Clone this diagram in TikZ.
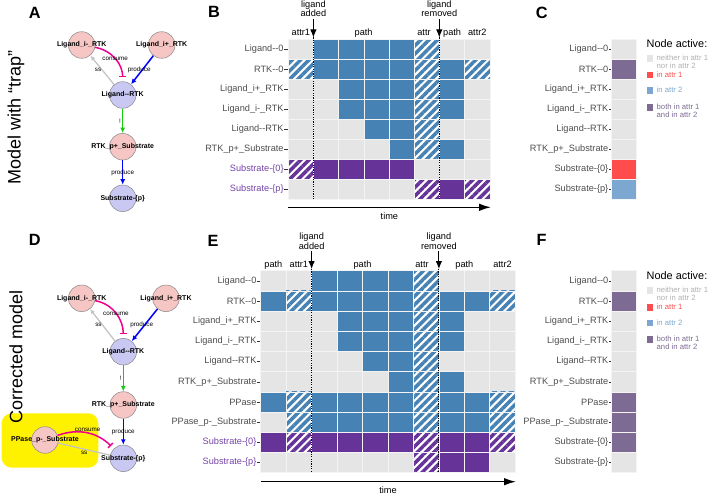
\documentclass[tikz,border=0pt]{standalone}
\usepackage{fontspec}
\setmainfont{Liberation Sans}
\usetikzlibrary{arrows.meta,patterns.meta}

\definecolor{cellgray}{HTML}{E5E5E5}
\definecolor{cellline}{HTML}{F4F4F4}
\definecolor{cellblue}{HTML}{4682B4}
\definecolor{cellpurple}{HTML}{663399}
\definecolor{labgray}{HTML}{4D4D4D}
\definecolor{labpurple}{HTML}{7444A8}
\definecolor{tickgray}{HTML}{333333}
\definecolor{attrone}{HTML}{FF4D4D}
\definecolor{attrtwo}{HTML}{7BA7D0}
\definecolor{attrboth}{HTML}{7D6B93}
\definecolor{neithertxt}{HTML}{B0B0B0}
\definecolor{nodepink}{HTML}{F5C6C3}
\definecolor{nodelav}{HTML}{C8C8F2}
\definecolor{nodeline}{HTML}{888888}
\definecolor{ssgray}{HTML}{C4C4C4}
\definecolor{edgegreen}{HTML}{11CC11}

\newcommand{\fsz}[2]{\fontsize{#1}{#2}\selectfont}

\tikzset{
  % fliser
  gr/.style={fill=cellgray,draw=cellline,line width=0.6pt},
  bl/.style={fill=cellblue,draw=cellline,line width=0.6pt},
  pu/.style={fill=cellpurple,draw=cellline,line width=0.6pt},
  hbl/.style={preaction={fill=white},pattern={Lines[angle=45,distance=5.9pt,line width=3.5pt]},pattern color=cellblue,draw=cellline,line width=0.6pt},
  hpu/.style={preaction={fill=white},pattern={Lines[angle=45,distance=5.9pt,line width=3.5pt]},pattern color=cellpurple,draw=cellline,line width=0.6pt},
  aone/.style={fill=attrone,draw=cellline,line width=0.6pt},
  atwo/.style={fill=attrtwo,draw=cellline,line width=0.6pt},
  aboth/.style={fill=attrboth,draw=cellline,line width=0.6pt},
  % tekst
  rowlab/.style={anchor=east,inner sep=0pt,text=labgray,font=\fsz{9.2}{11}},
  head/.style={anchor=base,inner sep=0pt,font=\fsz{9.2}{11}},
  event/.style={anchor=south,inner sep=0pt,align=center,font=\fsz{9.2}{9.6}},
  timelab/.style={inner sep=0pt,font=\fsz{9.2}{11}},
  panel/.style={inner sep=0pt,font=\bfseries\fsz{16.3}{18}},
  side/.style={inner sep=0pt,rotate=90,font=\fsz{18}{20}},
  legtitle/.style={anchor=west,inner sep=0pt,font=\fsz{10.9}{12}},
  legtxt/.style={anchor=north west,inner sep=0pt,align=left,font=\fsz{7.7}{8}},
  tickc/.style={draw=tickgray,line width=0.5pt},
  drop/.style={line width=1pt,shorten <=2pt,-{Latex[length=8pt,width=6.5pt]}},
  vline/.style={line width=1.1pt,dash pattern=on 1.1pt off 1.3pt},
  timearr/.style={line width=1.4pt,-{Latex[length=12pt,width=7.5pt]}},
  % nettverk
  pnode/.style={circle,draw=nodeline,line width=0.5pt,fill=nodepink,minimum size=26.6pt,inner sep=0pt},
  lnode/.style={pnode,fill=nodelav},
  nlab/.style={inner sep=0pt,font=\bfseries\fsz{7}{8}},
  elab/.style={inner sep=1pt,font=\fsz{6.3}{7}},
  ssedge/.style={draw=ssgray,line width=1.3pt,-{Latex[length=5pt,width=4.5pt]}},
  prod/.style={draw=blue,line width=1.5pt,-{Latex[length=5.5pt,width=5pt]}},
  actv/.style={draw=edgegreen,line width=1.5pt,-{Latex[length=5.5pt,width=5pt]}},
  cons/.style={draw=magenta,line width=1.5pt,shorten >=4pt,-{Bar[width=7pt,line width=1.3pt]}},
}

\begin{document}
\begin{tikzpicture}[x=1pt,y=-1pt]
  \useasboundingbox (0,0) rectangle (708,494);

  % Paneler
  \foreach \t/\x/\y in {A/34.7/12.5,B/214/11.5,C/541.7/12.5,D/34.7/239.5,E/213/241,F/541.5/239.5}
    \node[panel] (pan\t) at (\x,\y) {\t};

  % Nettverk A
  \node[pnode,label={[nlab]center:Ligand\_i-\_RTK}] (limA) at (81.7,45) {};
  \node[pnode,label={[nlab]center:Ligand\_i+\_RTK}] (lipA) at (161.7,45) {};
  \node[lnode,label={[nlab]center:Ligand-{}-RTK}] (lrA) at (122.7,95) {};
  \node[pnode,label={[nlab]center:RTK\_p+\_Substrate}] (rpsA) at (122.7,146.7) {};
  \node[lnode,label={[nlab]center:Substrate-\{p\}}] (spA) at (122.7,198.3) {};
  \draw[ssedge] (lrA) -- node[elab,left,inner sep=0.3pt] (ssA) {ss} (limA);
  \draw[cons] (limA) to[out=-10,in=90] node[elab] (conA) {consume} (lrA);
  \draw[prod] (lipA) -- node[elab,xshift=-3pt] (prA) {produce} (lrA);
  \draw[actv] (lrA) -- node[elab,left] (acA) {!} (rpsA);
  \draw[prod] (rpsA) -- node[elab] (pr2A) {produce} (spA);

  % Nettverk D
  \fill[yellow,rounded corners=10pt] (1.7,413.3) rectangle (98.3,467.7);
  \node[pnode,label={[nlab]center:Ligand\_i-\_RTK}] (limD) at (81.7,298.3) {};
  \node[pnode,label={[nlab]center:Ligand\_i+\_RTK}] (lipD) at (166,298.3) {};
  \node[lnode,label={[nlab]center:Ligand-{}-RTK}] (lrD) at (123.3,351.7) {};
  \node[pnode,label={[nlab]center:RTK\_p+\_Substrate}] (rpsD) at (123.3,405) {};
  \node[lnode,label={[nlab]center:Substrate-\{p\}}] (spD) at (123.3,458.3) {};
  \node[pnode,label={[nlab]center:PPase\_p-\_Substrate}] (ppsD) at (45,440) {};
  \draw[ssedge] (lrD) -- node[elab,left,inner sep=0.3pt] (ssD) {ss} (limD);
  \draw[cons] (limD) to[out=-10,in=90] node[elab] (conD) {consume} (lrD);
  \draw[prod] (lipD) -- node[elab,xshift=-3pt] (prD) {produce} (lrD);
  \draw[actv] (lrD) -- node[elab,left] (acD) {!} (rpsD);
  \draw[prod] (rpsD) -- node[elab] (pr2D) {produce} (spD);
  \draw[cons] (ppsD) to[out=20,in=135] node[elab,above] (conD2) {consume} (spD);
  \draw[draw=ssgray,line width=1.3pt] (spD) -- node[elab,below] (ssD2) {ss} (ppsD);

  % Sidetekst (over den gule boksen)
  \node[side] (sideA) at (16,117.5) {Model with “trap”};
  \node[side] (sideD) at (16,357) {Corrected model};

  % B: varmekart
  \foreach \lab/\col/\row [count=\j] in {
      Ligand-{}-0/labgray/{gr,bl,bl,bl,bl,hbl,gr,gr},
      RTK-{}-0/labgray/{hbl,bl,bl,bl,bl,hbl,bl,hbl},
      Ligand\_i+\_RTK/labgray/{gr,gr,bl,bl,bl,hbl,bl,gr},
      Ligand\_i-\_RTK/labgray/{gr,gr,bl,bl,bl,hbl,bl,gr},
      Ligand-{}-RTK/labgray/{gr,gr,gr,bl,bl,hbl,gr,gr},
      RTK\_p+\_Substrate/labgray/{gr,gr,gr,gr,bl,hbl,bl,gr},
      Substrate-\{0\}/labpurple/{hpu,pu,pu,pu,pu,gr,gr,gr},
      Substrate-\{p\}/labpurple/{gr,gr,gr,gr,gr,hpu,pu,hpu}} {
    \node[rowlab,text=\col] (rb\j) at (283.8,{29.3+20*\j}) {\lab};
    \draw[tickc] (rb\j.east) ++(0.6,0) -- ++(3.9,0);
    \foreach \s [count=\i] in \row
      \path[\s] ({263.1+25.2*\i},{19.3+20*\j}) rectangle ++(25.2,20);
  }
  \foreach \t/\x [count=\k] in {attr1/300.9,path/363.6,attr/424,path/452.1,attr2/477.3}
    \node[head] (hb\k) at (\x,36) {\t};
  \foreach \n/\x/\t in {addB/313.4/{ligand\\added},remB/439.3/{ligand\\removed}} {
    \node[event] (\n) at (\x,17) {\t};
    \coordinate (t\n) at (\x,37.5);
    \coordinate (b\n) at (\x,200);
    \draw[drop] (\n) -- (t\n);
    \draw[vline] (t\n) -- (b\n);
  }
  \coordinate (tB0) at (288.3,207.3);
  \coordinate (tB1) at (491,207.3);
  \draw[timearr] (tB0) -- (tB1);
  \node[timelab] (timeB) at (389.4,216.3) {time};

  % E: varmekart
  \foreach \lab/\col/\row [count=\j] in {
      Ligand-{}-0/labgray/{gr,gr,bl,bl,bl,bl,hbl,gr,gr,gr},
      RTK-{}-0/labgray/{bl,hbl,bl,bl,bl,bl,hbl,bl,bl,hbl},
      Ligand\_i+\_RTK/labgray/{gr,gr,gr,bl,bl,bl,hbl,bl,gr,gr},
      Ligand\_i-\_RTK/labgray/{gr,gr,gr,bl,bl,bl,hbl,bl,gr,gr},
      Ligand-{}-RTK/labgray/{gr,gr,gr,gr,bl,bl,hbl,gr,gr,gr},
      RTK\_p+\_Substrate/labgray/{gr,gr,gr,gr,gr,bl,hbl,bl,gr,gr},
      PPase/labgray/{bl,hbl,bl,bl,bl,bl,hbl,bl,bl,hbl},
      PPase\_p-\_Substrate/labgray/{gr,hbl,bl,bl,bl,bl,hbl,bl,bl,hbl},
      Substrate-\{0\}/labpurple/{pu,hpu,pu,pu,pu,pu,hpu,pu,pu,hpu},
      Substrate-\{p\}/labpurple/{gr,gr,gr,gr,gr,gr,hpu,pu,pu,gr}} {
    \node[rowlab,text=\col] (re\j) at (256.6,{260.6+20.2*\j}) {\lab};
    \draw[tickc] (re\j.east) ++(0.6,0) -- ++(3.5,0);
    \foreach \s [count=\i] in \row
      \path[\s] ({235.25+25.45*\i},{250.5+20.2*\j}) rectangle ++(25.45,20.2);
  }
  \foreach \t/\x [count=\k] in {path/273.4,attr1/298.9,path/362.5,attr/422,path/464.4,attr2/502.5}
    \node[head] (he\k) at (\x,267) {\t};
  \foreach \n/\x/\t in {addE/311.6/{ligand\\added},remE/438.9/{ligand\\removed}} {
    \node[event] (\n) at (\x,249.3) {\t};
    \coordinate (t\n) at (\x,269);
    \coordinate (b\n) at (\x,472.7);
    \draw[drop] (\n) -- (t\n);
    \draw[vline] (t\n) -- (b\n);
  }
  \coordinate (tE0) at (260.7,481.7);
  \coordinate (tE1) at (516,481.7);
  \draw[timearr] (tE0) -- (tE1);
  \node[timelab] (timeE) at (388,490) {time};

  % C og F: attraktorer
  \foreach \lab/\s [count=\j] in {Ligand-{}-0/gr,RTK-{}-0/aboth,Ligand\_i+\_RTK/gr,
      Ligand\_i-\_RTK/gr,Ligand-{}-RTK/gr,RTK\_p+\_Substrate/gr,Substrate-\{0\}/aone,
      Substrate-\{p\}/atwo} {
    \node[rowlab] (rc\j) at (608.5,{29+20*\j}) {\lab};
    \draw[tickc] (rc\j.east) ++(0.6,0) -- ++(2.6,0);
    \path[\s] (611.7,{19+20*\j}) rectangle ++(25,20);
  }
  \foreach \lab/\s [count=\j] in {Ligand-{}-0/gr,RTK-{}-0/aboth,Ligand\_i+\_RTK/gr,
      Ligand\_i-\_RTK/gr,Ligand-{}-RTK/gr,RTK\_p+\_Substrate/gr,PPase/aboth,
      PPase\_p-\_Substrate/aboth,Substrate-\{0\}/aboth,Substrate-\{p\}/gr} {
    \node[rowlab] (rf\j) at (608.5,{260.6+20.2*\j}) {\lab};
    \draw[tickc] (rf\j.east) ++(0.6,0) -- ++(2.6,0);
    \path[\s] (611.7,{250.5+20.2*\j}) rectangle ++(25,20.2);
  }

  % Forklaring
  \foreach \p/\dy in {C/0,F/232.4} {
    \begin{scope}[shift={(0,\dy)}]
      \node[legtitle] (leg\p) at (646.5,43.3) {Node active:};
      \foreach \c/\tc/\t/\y [count=\k] in {cellgray/neithertxt/{neither in attr 1\\nor in attr 2}/58.3,
          attrone/attrone/{in attr 1}/75,attrtwo/attrtwo/{in attr 2}/90.7,
          attrboth/attrboth/{both in attr 1\\and in attr 2}/107.3} {
        \fill[\c] (646.7,{\y-3.35}) rectangle ++(6.7,6.7);
        \node[legtxt,text=\tc] (leg\p\k) at (656.5,{\y-3.6}) {\t};
      }
    \end{scope}
  }
\end{tikzpicture}
\end{document}
